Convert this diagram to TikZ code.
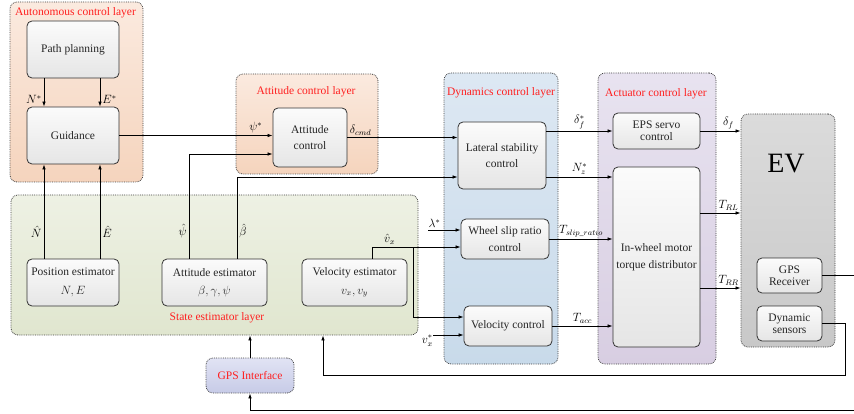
\documentclass[tikz,border=0pt]{standalone}
\usepackage{fontspec}
\setmainfont{Liberation Serif}
\usepackage{amsmath}
\usetikzlibrary{positioning, arrows.meta, calc}
\definecolor{autotop}{HTML}{FBEADF}
\definecolor{autobot}{HTML}{F5D4BD}
\definecolor{dyntop}{HTML}{DDE8F3}
\definecolor{dynbot}{HTML}{C8DAEA}
\definecolor{acttop}{HTML}{E8E3F0}
\definecolor{actbot}{HTML}{D8CEE2}
\definecolor{sttop}{HTML}{EEF1E4}
\definecolor{stbot}{HTML}{E0E6CF}
\definecolor{evtop}{HTML}{DBDBDB}
\definecolor{evbot}{HTML}{C8C8C8}
\definecolor{gpstop}{HTML}{E1E3F4}
\definecolor{gpsbot}{HTML}{C7CBE7}
\definecolor{layred}{HTML}{FF2020}

\begin{document}
\begin{tikzpicture}[x=1pt, y=-1pt,
    box/.style={draw=black!80, line width=0.8pt, rounded corners=5pt, top color=gray!3, bottom color=gray!20,
      align=center, inner sep=1pt, text=black!85, font=\fontsize{11.5}{16.5}\selectfont},
    tightbox/.style={box, font=\fontsize{11.5}{12}\selectfont},
    layer/.style={draw=black!75, densely dotted, line width=0.8pt, rounded corners=7pt, inner sep=0pt},
    title/.style={text=layred, font=\fontsize{11.5}{13}\selectfont},
    sig/.style={draw=black, line width=0.7pt, -{Latex[length=5pt,width=3.5pt]}},
    lbl/.style={inner sep=2pt, font=\fontsize{12}{14}\selectfont}
  ]
  \useasboundingbox (0,0) rectangle (854,414);

  % layers
  \node[layer, top color=autotop, bottom color=autobot, minimum width=133pt, minimum height=180pt] (autol) at (76.5,92) {};
  \node[layer, top color=autotop, bottom color=autobot, minimum width=142pt, minimum height=100pt] (attl) at (307,124) {};
  \node[layer, top color=dyntop, bottom color=dynbot, minimum width=114pt, minimum height=291pt] (dynl) at (501,218.5) {};
  \node[layer, top color=acttop, bottom color=actbot, minimum width=118pt, minimum height=291pt] (actl) at (657,218.5) {};
  \node[layer, top color=sttop, bottom color=stbot, minimum width=407pt, minimum height=140pt] (stl) at (214.5,265) {};
  \node[layer, top color=evtop, bottom color=evbot, minimum width=94pt, minimum height=233pt] (ev) at (788,230.5) {};
  \node[layer, title, top color=gpstop, bottom color=gpsbot, minimum width=88pt, minimum height=35pt] (gpsi) at (250,375.5) {GPS Interface};

  % layer titles
  \node[title] (autot) at (75.5,13) {Autonomous control layer};
  \node[title] (attt) at (306,92) {Attitude control layer};
  \node[title] (dynt) at (501,93) {Dynamics control layer};
  \node[title] (actt) at (656,94) {Actuator control layer};
  \node[title] (stt) at (217,318) {State estimator layer};
  \node[font=\fontsize{28}{30}\selectfont] (evt) at (786,164) {EV};

  % blocks
  \node[box, minimum width=92pt, minimum height=57pt] (plan) at (73,49.5) {Path planning};
  \node[box, minimum width=92pt, minimum height=57pt] (guid) at (73,135.5) {Guidance};
  \node[box, minimum width=74pt, minimum height=59pt] (attc) at (310,137.5) {Attitude\\control};
  \node[box, minimum width=88pt, minimum height=67pt] (lat) at (502,155.5) {Lateral stability\\control};
  \node[box, minimum width=88pt, minimum height=40pt] (slip) at (505,239) {Wheel slip ratio\\control};
  \node[box, minimum width=88pt, minimum height=40pt] (velc) at (508,326) {Velocity control};
  \node[tightbox, minimum width=87pt, minimum height=36pt] (eps) at (656.5,131) {EPS servo\\control};
  \node[box, minimum width=87pt, minimum height=180pt] (iwm) at (656.5,257) {In-wheel motor\\torque distributor};
  \node[tightbox, minimum width=65pt, minimum height=35pt] (gpsr) at (789.5,275.5) {GPS\\Receiver};
  \node[tightbox, minimum width=65pt, minimum height=35pt] (dyns) at (789.5,323.5) {Dynamic\\sensors};
  \node[box, minimum width=92pt, minimum height=47pt] (pos) at (73,282.5) {Position estimator\\[2pt]$N,E$};
  \node[box, minimum width=105pt, minimum height=47pt] (atte) at (214.5,282.5) {Attitude estimator\\[2pt]$\beta,\gamma,\psi$};
  \node[box, minimum width=105pt, minimum height=47pt] (vele) at (354.5,282.5) {Velocity estimator\\[2pt]$v_x,v_y$};

  % autonomous layer signals
  \draw[sig] ([xshift=-29pt]plan.south) -- node[lbl, pos=0.75, left] (nref) {$N^*$} ([xshift=-29pt]guid.north);
  \draw[sig] ([xshift=27pt]plan.south) -- node[lbl, pos=0.75, right] (eref) {$E^*$} ([xshift=27pt]guid.north);
  \draw[sig] ([xshift=-29pt]pos.north) -- node[lbl, pos=0.28, left] (nhat) {$\hat{N}$} ([xshift=-29pt]guid.south);
  \draw[sig] ([xshift=27pt]pos.north) -- node[lbl, pos=0.28, right] (ehat) {$\hat{E}$} ([xshift=27pt]guid.south);

  % attitude layer signals
  \draw[sig] (guid.east) -- node[lbl, pos=0.89, above] (psiref) {$\psi^*$} (guid.east -| attc.west);
  \draw[sig] ([xshift=-25.5pt]atte.north) |- node[lbl, pos=0.13, left] (psihat) {$\hat{\psi}$} ([yshift=-16.5pt]attc.west);
  \draw[sig] ([xshift=22.5pt]atte.north) |- node[lbl, pos=0.17, right] (betahat) {$\hat{\beta}$} ([yshift=-21.5pt]lat.west);
  \draw[sig] (attc.east) -- node[lbl, pos=0.12, above] (dcmd) {$\delta_{cmd}$} (attc.east -| lat.west);

  % velocity signals
  \coordinate (vxsplit) at (413,247);
  \coordinate (lamin) at (428,230);
  \coordinate (vxin) at (433,335);
  \draw[sig] ([xshift=17.5pt]vele.north) |- node[lbl, pos=0.6, above] (vxhat) {$\hat{v}_x$} ([yshift=-8pt]slip.west);
  \draw[sig] (vxsplit) |- ([yshift=9pt]velc.west);
  \draw[sig] (lamin) -- node[lbl, pos=0.2, above] (lamref) {$\lambda^*$} (lamin -| slip.west);
  \draw[sig] (vxin) -- (vxin -| velc.west);
  \node[lbl, below left, inner sep=0pt] (vxref) at (vxin) {$v_x^*$};

  % dynamics -> actuator
  \draw[sig] (eps.west -| lat.east) -- node[lbl, above] (dfref) {$\delta_f^*$} (eps.west);
  \draw[sig] ([yshift=-21.5pt]lat.east) -- node[lbl, above] (nzref) {$N_z^*$} ([yshift=-21.5pt]lat.east -| iwm.west);
  \draw[sig] (slip.east) -- node[lbl, above] (tslip) {$T_{slip\_ratio}$} (slip.east -| iwm.west);
  \draw[sig] (velc.east) -- node[lbl, above] (tacc) {$T_{acc}$} (velc.east -| iwm.west);

  % actuator -> EV
  \draw[sig] (eps.east) -- node[lbl, pos=0.7, above] (df) {$\delta_f$} (eps.east -| ev.west);
  \draw[sig] ([yshift=44pt]iwm.east) -- node[lbl, pos=0.7, above] (trl) {$T_{RL}$} ([yshift=44pt]iwm.east -| ev.west);
  \draw[sig] ([yshift=-31pt]iwm.east) -- node[lbl, pos=0.7, above] (trr) {$T_{RR}$} ([yshift=-31pt]iwm.east -| ev.west);

  % feedback
  \coordinate (gpsturn) at (858,410);
  \coordinate (dynturn) at (845,375);
  \draw[sig] (gpsr.east) -| (gpsturn) -| (gpsi.south);
  \draw[sig] (dyns.east) -| (dynturn) -| ([xshift=108.5pt]stl.south);
  \draw[sig] (gpsi.north) -- (gpsi.north |- stl.south);
\end{tikzpicture}
\end{document}
